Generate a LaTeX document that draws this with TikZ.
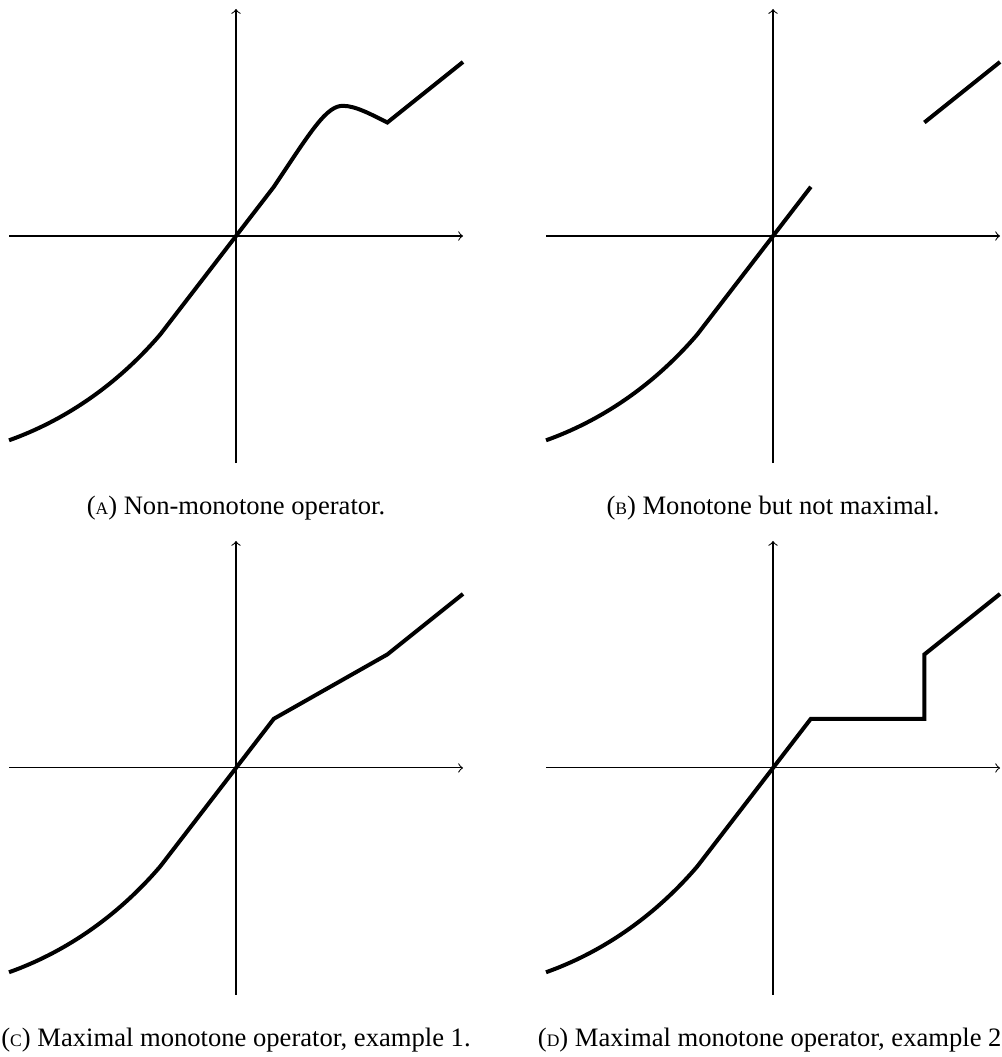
\documentclass[tikz,border=0pt]{standalone}
\usepackage{fontspec}
\setmainfont{Liberation Serif}
\usetikzlibrary{calc}

\newcommand{\sublabel}[1]{{\fontsize{6.6}{8}\selectfont #1}}

\begin{document}
\begin{tikzpicture}[
			axis/.style={->, line width=0.4pt},
			graph/.style={line width=1.5pt},
			caption/.style={anchor=base, inner sep=0pt, font=\fontsize{10}{12}\selectfont}
			]
			\useasboundingbox (-3.119,-10.850) rectangle (10.110,3.119);
			
			% Origins
			\coordinate (oA) at (0,0);
			\coordinate (oB) at (7.097,0);
			\coordinate (oC) at (0,-7.03);
			\coordinate (oD) at (7.097,-7.03);
			
			% Axes
			\foreach \o in {oA, oB, oC, oD} {
				\draw[axis] ($(\o)+(-3,0)$) -- ($(\o)+(3,0)$);
				\draw[axis] ($(\o)+(0,-3)$) -- ($(\o)+(0,3)$);
			}
			
			% (A) non-monotone
			\begin{scope}[shift={(oA)}]
				\draw[graph] (-3,-2.7) .. controls (-2.3,-2.45) and (-1.6,-2.0) .. (-1,-1.3) -- (0,0) -- (0.5,0.65)
					.. controls (1.0,1.4) and (1.2,1.73) .. (1.42,1.72)
					.. controls (1.58,1.72) and (1.8,1.6) .. (2,1.5) -- (3,2.3);
			\end{scope}
			
			% (B) monotone, not maximal
			\begin{scope}[shift={(oB)}]
				\draw[graph] (-3,-2.7) .. controls (-2.3,-2.45) and (-1.6,-2.0) .. (-1,-1.3) -- (0,0) -- (0.5,0.65);
				\draw[graph] (2,1.5) -- (3,2.3);
			\end{scope}
			
			% (C) maximal monotone 1
			\begin{scope}[shift={(oC)}]
				\draw[graph] (-3,-2.7) .. controls (-2.3,-2.45) and (-1.6,-2.0) .. (-1,-1.3) -- (0,0) -- (0.5,0.65) -- (2,1.5) -- (3,2.3);
			\end{scope}
			
			% (D) maximal monotone 2
			\begin{scope}[shift={(oD)}]
				\draw[graph] (-3,-2.7) .. controls (-2.3,-2.45) and (-1.6,-2.0) .. (-1,-1.3) -- (0,0) -- (0.5,0.65) -- (2,0.65) -- (2,1.5) -- (3,2.3);
			\end{scope}
			
			% Captions
			\node[caption] (capA) at ($(oA)+(0,-3.685)$) {(\sublabel{A}) Non-monotone operator.};
			\node[caption] (capB) at ($(oB)+(0,-3.685)$) {(\sublabel{B}) Monotone but not maximal.};
			\node[caption] (capC) at ($(oC)+(0,-3.685)$) {(\sublabel{C}) Maximal monotone operator, example 1.};
			\node[caption] (capD) at ($(oD)+(0,-3.685)$) {(\sublabel{D}) Maximal monotone operator, example 2.};
			
		\end{tikzpicture}
\end{document}
